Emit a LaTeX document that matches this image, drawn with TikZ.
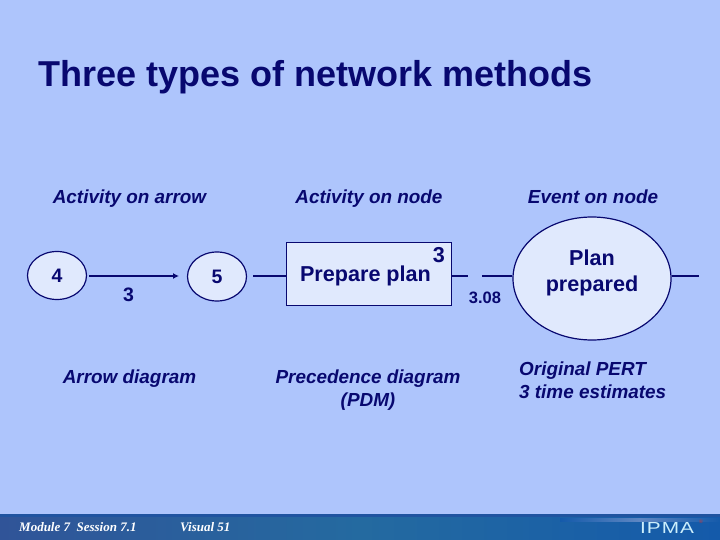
\documentclass[tikz,border=0pt]{standalone}
\usepackage{fontspec}
\setmainfont{Liberation Sans}
\newfontfamily\footfont{Liberation Serif}
\newfontfamily\logofont[FakeStretch=1.3,LetterSpace=6]{Liberation Sans}
\usetikzlibrary{shapes.geometric,arrows.meta}
\definecolor{bgblue}{RGB}{174,197,252}
\definecolor{navy}{RGB}{8,8,112}
\definecolor{fillblue}{RGB}{224,233,253}
\definecolor{barA}{RGB}{48,84,152}
\definecolor{barB}{RGB}{36,106,160}
\definecolor{barC}{RGB}{20,90,170}
\definecolor{barD}{RGB}{32,84,160}
\definecolor{glow}{RGB}{95,135,195}
\tikzset{
  x=1pt,y=-1pt,
  ev/.style={ellipse,draw=navy,fill=fillblue,line width=1.2pt,inner sep=0pt},
  conn/.style={draw=navy,line width=1.4pt},
  lab/.style={text=navy,font=\fontsize{19.5}{21}\selectfont\bfseries,align=center,inner sep=0pt},
  big/.style={text=navy,font=\fontsize{21.6}{26}\selectfont\bfseries,align=center,inner sep=0pt},
  head/.style={text=navy,font=\fontsize{18.9}{23}\selectfont\bfseries\itshape,align=center,inner sep=0pt},
  foot/.style={text=white,font=\footfont\fontsize{13}{15}\selectfont\bfseries\itshape,anchor=west,inner sep=0pt}
}
\begin{document}
\begin{tikzpicture}
\useasboundingbox (0,0) rectangle (720,540);
\fill[bgblue] (0,0) rectangle (720,540);
\shade[left color=barA,right color=barB] (0,514) rectangle (360,540);
\shade[left color=barB,right color=barC] (360,514) rectangle (720,540);
\fill[barD] (0,514) rectangle (720,517);
\shade[left color=barC,right color=barC,middle color=glow] (560,518) rectangle (720,521);
\node[anchor=base west,text=navy,inner sep=0pt,font=\fontsize{36}{42}\selectfont\bfseries] (title) at (38,87) {Three types of network methods};
\node[head,anchor=base] (h1) at (129.5,203.5) {Activity on arrow};
\node[head,anchor=base] (h2) at (369,203.5) {Activity on node};
\node[head,anchor=base] (h3) at (593,203.5) {Event on node};

\node[ev,minimum width=59pt,minimum height=48pt] (n4) at (57,275.5) {};
\node[lab] at (n4.center) {4};
\node[ev,minimum width=59pt,minimum height=49pt] (n5) at (217,276.5) {};
\node[lab] at (n5.center) {5};
\coordinate (a1) at (89,276);
\coordinate (a2) at (179,276);
\draw[conn,-{Latex[length=6pt,width=6pt]}] (a1) -- (a2);
\node[lab] (w3) at (128.5,294.5) {3};
\node[head,anchor=base] (c1) at (129.5,383) {Arrow diagram};

\node[rectangle,draw=navy,fill=fillblue,line width=1pt,minimum width=165pt,minimum height=63pt,inner sep=0pt] (box) at (369,274) {};
\node[big,anchor=base] (pp) at (365.5,281) {Prepare plan};
\node[big,anchor=base] (d3) at (439,262) {3};
\coordinate (l1) at (253,276);
\draw[conn] (l1) -- (l1 -| box.west);
\coordinate (l2) at (468,276);
\draw[conn] (l2 -| box.east) -- (l2);
\node[text=navy,inner sep=0pt,font=\fontsize{16.5}{19}\selectfont\bfseries,anchor=base] (v308) at (485,303) {3.08};
\node[head,anchor=base] (c2) at (368,406) {Precedence diagram\\(PDM)};

\node[ev,minimum width=158pt,minimum height=123pt] (bigev) at (592,278.5) {};
\node[big,anchor=base] (pl) at (592,291) {Plan\\prepared};
\coordinate (l3) at (482,276);
\coordinate (l4) at (699,276);
\draw[conn] (l3) -- (l3 -| bigev.west);
\draw[conn] (l4 -| bigev.east) -- (l4);
\node[head,align=left,anchor=base west] (c3) at (519,398) {Original PERT\\3 time estimates};

\node[foot] (f1) at (19,527.5) {Module 7\ \ Session 7.1};
\node[foot] (f2) at (180,527.5) {Visual 51};
\node[anchor=west,inner sep=0pt,text=white!80!cyan,font=\logofont\fontsize{16}{18}\selectfont] (ipma) at (640,527.5) {IPMA};
\node[inner sep=0pt,text=red!60!gray,font=\fontsize{5}{6}\selectfont] (reg) at (701,522) {®};
\end{tikzpicture}
\end{document}
